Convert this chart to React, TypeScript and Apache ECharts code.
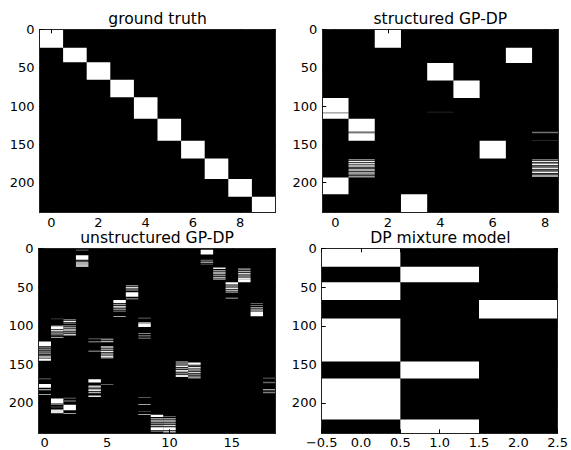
import React, { useEffect, useRef } from "react";
import * as echarts from "echarts";

// Each segment: [column, firstRow, endRow (exclusive), grey level 0..1]
const GROUND_TRUTH_SEGMENTS: number[][] = [
  [0, 0, 24, 1], [1, 24, 43, 1], [2, 43, 66, 1], [3, 66, 89, 1], [4, 89, 117, 1],
  [5, 117, 146, 1], [6, 146, 169, 1], [7, 169, 196, 1], [8, 196, 219, 1], [9, 219, 240, 1],
];

const STRUCTURED_SEGMENTS: number[][] = [
  [2, 0, 24, 1], [7, 24, 44, 1], [4, 44, 67, 1], [5, 67, 90, 1],
  [0, 90, 109, 1], [0, 109, 110, 0.85], [0, 110, 117, 1], [4, 108, 109, 0.18],
  [1, 117, 134, 1], [1, 134, 136, 0.45], [1, 136, 146, 1],
  [8, 134, 136, 0.45], [8, 145, 146, 0.2],
  [6, 146, 169, 1],
  [1, 170, 171, 0.7], [1, 172, 174, 0.95], [1, 175, 177, 0.85], [1, 177, 178, 0.4], [1, 178, 180, 0.9],
  [1, 181, 182, 0.5], [1, 183, 185, 0.9], [1, 186, 187, 0.45], [1, 187, 189, 0.8], [1, 190, 191, 0.9], [1, 192, 194, 0.6],
  [8, 170, 171, 0.6], [8, 172, 174, 0.9], [8, 175, 176, 0.5], [8, 176, 178, 0.95], [8, 179, 180, 0.5],
  [8, 181, 183, 0.9], [8, 184, 185, 0.45], [8, 186, 188, 0.95], [8, 189, 190, 0.6], [8, 191, 193, 0.85],
  [0, 194, 216, 1], [3, 216, 240, 1],
];

const UNSTRUCTURED_SEGMENTS: number[][] = [
  [0, 121, 127, 1], [0, 128, 129, 0.55], [0, 130, 132, 0.5], [0, 133, 134, 0.85], [0, 135, 137, 0.5],
  [0, 138, 139, 0.6], [0, 140, 142, 0.9], [0, 143, 146, 1],
  [0, 169, 170, 0.5], [0, 176, 181, 1], [0, 183, 184, 0.8], [0, 189, 190, 0.85],
  [1, 91, 92, 0.3], [1, 100, 101, 0.6], [1, 101, 105, 1], [1, 106, 108, 0.85], [1, 109, 112, 0.5],
  [1, 113, 114, 0.4], [1, 115, 116, 0.85],
  [1, 195, 201, 1], [1, 201, 203, 0.6], [1, 205, 207, 0.2], [1, 209, 214, 0.9],
  [2, 92, 93, 0.6], [2, 94, 96, 0.95], [2, 97, 98, 0.5], [2, 100, 101, 0.85], [2, 102, 104, 0.6],
  [2, 105, 107, 0.9], [2, 108, 110, 0.5], [2, 111, 113, 0.8],
  [2, 194, 195, 0.5], [2, 197, 199, 0.4], [2, 203, 210, 1], [2, 214, 215, 0.85],
  [3, 2, 3, 0.5], [3, 9, 15, 1], [3, 16, 17, 0.6], [3, 18, 20, 0.9], [3, 20, 22, 0.7], [3, 22, 24, 0.95],
  [4, 117, 118, 0.5], [4, 121, 122, 0.8], [4, 133, 134, 0.85], [4, 170, 174, 1], [4, 178, 180, 0.8],
  [4, 180, 182, 0.5], [4, 183, 185, 0.9], [4, 186, 188, 0.7], [4, 191, 193, 0.9],
  [5, 117, 119, 0.5], [5, 120, 122, 0.7], [5, 127, 129, 0.85], [5, 130, 132, 0.6], [5, 133, 135, 0.95],
  [5, 136, 138, 0.7], [5, 139, 141, 0.9], [5, 141, 143, 0.6], [5, 176, 177, 0.5],
  [6, 67, 71, 1], [6, 72, 74, 0.6], [6, 75, 77, 0.8], [6, 78, 80, 0.55], [6, 81, 82, 0.7], [6, 88, 89, 0.85],
  [7, 48, 49, 0.7], [7, 50, 52, 0.85], [7, 53, 55, 0.5], [7, 57, 63, 1], [7, 65, 66, 0.85],
  [8, 90, 91, 0.5], [8, 96, 98, 0.8], [8, 98, 102, 1], [8, 110, 111, 0.7], [8, 113, 114, 0.8], [8, 116, 117, 0.7],
  [8, 193, 194, 0.45], [8, 202, 203, 0.85], [8, 211, 212, 0.3], [8, 215, 216, 0.85],
  [9, 216, 219, 1], [9, 220, 222, 0.6], [9, 223, 225, 0.8], [9, 226, 228, 0.5], [9, 229, 231, 0.7],
  [9, 232, 236, 1], [9, 237, 238, 0.5],
  [10, 218, 219, 0.5], [10, 220, 222, 0.6], [10, 223, 225, 0.8], [10, 226, 228, 0.55], [10, 229, 231, 0.85],
  [10, 232, 236, 1], [10, 237, 239, 0.7],
  [11, 147, 148, 0.85], [11, 149, 151, 0.6], [11, 152, 154, 0.95], [11, 155, 157, 0.6], [11, 158, 160, 0.9],
  [11, 161, 163, 0.5], [11, 164, 167, 0.9],
  [12, 148, 151, 1], [12, 152, 153, 0.6], [12, 154, 156, 0.9], [12, 157, 159, 0.7], [12, 160, 162, 0.85],
  [12, 163, 165, 0.5], [12, 166, 169, 0.6],
  [13, 2, 8, 1], [13, 15, 16, 0.5], [13, 17, 19, 0.6], [13, 20, 21, 0.45],
  [14, 25, 27, 0.9], [14, 28, 30, 0.6], [14, 31, 33, 0.85], [14, 34, 36, 0.55], [14, 37, 39, 0.7], [14, 39, 41, 0.5],
  [15, 44, 47, 1], [15, 48, 50, 0.6], [15, 51, 53, 0.9], [15, 54, 56, 0.7], [15, 57, 58, 0.6], [15, 64, 65, 0.85],
  [16, 26, 28, 0.5], [16, 29, 31, 0.7], [16, 32, 34, 0.85], [16, 35, 37, 0.6], [16, 38, 40, 0.9], [16, 40, 44, 1],
  [17, 71, 72, 0.5], [17, 74, 75, 0.6], [17, 76, 78, 0.6], [17, 79, 81, 0.7], [17, 82, 88, 1],
  [18, 168, 169, 0.5], [18, 173, 175, 0.4], [18, 183, 184, 0.85], [18, 186, 188, 0.5],
];

const DP_MIXTURE_SEGMENTS: number[][] = [
  [0, 0, 24, 1], [1, 24, 44, 1], [0, 44, 67, 1], [2, 67, 91, 1],
  [0, 91, 147, 1], [1, 147, 169, 1], [0, 169, 222, 1], [1, 222, 240, 1],
];

const TITLES = ["ground truth", "structured GP-DP", "unstructured GP-DP", "DP mixture model"];
const COLUMN_COUNTS = [10, 9, 19, 3];
const X_TICKS: number[][] = [
  [0, 2, 4, 6, 8],
  [0, 2, 4, 6, 8],
  [0, 5, 10, 15],
  [-0.5, 0, 0.5, 1, 1.5, 2, 2.5],
];
const Y_TICKS = [0, 50, 100, 150, 200];
const ROW_COUNT = 240;

const SEGMENTS = [GROUND_TRUTH_SEGMENTS, STRUCTURED_SEGMENTS, UNSTRUCTURED_SEGMENTS, DP_MIXTURE_SEGMENTS];

const GRIDS = [
  { left: 39.5, top: 29.3, width: 236, height: 183.4 },
  { left: 322.3, top: 29.3, width: 236, height: 183.4 },
  { left: 38.5, top: 248.3, width: 237, height: 185 },
  { left: 321.7, top: 248.3, width: 237.3, height: 185 },
];

const FONT = "DejaVu Sans";

function grey(v: number): string {
  const c = Math.round(Math.max(0, Math.min(1, v)) * 255);
  return `rgb(${c},${c},${c})`;
}

function fmtX(panel: number, v: number): string {
  if (panel === 3) {
    const s = Math.abs(v).toFixed(1);
    return v < 0 ? "\u2212" + s : s;
  }
  return String(v);
}

function buildOption() {
  const xAxis: any[] = [];
  const yAxis: any[] = [];
  const series: any[] = [];
  const graphic: any[] = [];
  const grid = GRIDS.map((g) => ({
    ...g,
    show: true,
    backgroundColor: "#000",
    borderWidth: 0,
    containLabel: false,
  }));

  const lineStyle = { color: "#222", width: 1 };
  const tickStyle = { color: "#000", width: 1 };

  for (let i = 0; i < 4; i++) {
    const n = COLUMN_COUNTS[i];
    const base = {
      gridIndex: i,
      type: "value",
      min: -0.5,
      max: n - 0.5,
      z: 10,
      splitLine: { show: false },
      axisLine: { show: true, lineStyle, onZero: false },
    };
    xAxis.push({
      ...base,
      position: "bottom",
      axisTick: { show: true, inside: true, length: 4, lineStyle: tickStyle, customValues: X_TICKS[i] },
      axisLabel: {
        show: true,
        customValues: X_TICKS[i],
        showMinLabel: true,
        showMaxLabel: true,
        margin: 3,
        color: "#000",
        fontSize: 13,
        fontFamily: FONT,
        lineHeight: 13,
        formatter: (v: number) => fmtX(i, v),
      },
    });
    xAxis.push({
      ...base,
      position: "top",
      axisTick: { show: true, inside: true, length: 4, lineStyle: tickStyle, customValues: X_TICKS[i] },
      axisLabel: { show: false },
    });
    const ybase = {
      gridIndex: i,
      type: "value",
      min: -0.5,
      max: ROW_COUNT - 0.5,
      inverse: true,
      z: 10,
      splitLine: { show: false },
      axisLine: { show: true, lineStyle, onZero: false },
    };
    yAxis.push({
      ...ybase,
      position: "left",
      axisTick: { show: true, inside: true, length: 4, lineStyle: tickStyle, customValues: Y_TICKS },
      axisLabel: {
        show: true,
        customValues: Y_TICKS,
        showMinLabel: true,
        margin: 5,
        color: "#000",
        fontSize: 13,
        fontFamily: FONT,
      },
    });
    yAxis.push({
      ...ybase,
      position: "right",
      axisTick: { show: true, inside: true, length: 4, lineStyle: tickStyle, customValues: Y_TICKS },
      axisLabel: { show: false },
    });

    series.push({
      type: "custom",
      xAxisIndex: 2 * i,
      yAxisIndex: 2 * i,
      clip: true,
      z: 2,
      encode: { x: 0, y: 1 },
      data: SEGMENTS[i],
      renderItem: (params: any, api: any) => {
        const c = api.value(0);
        const r0 = api.value(1);
        const r1 = api.value(2);
        const v = api.value(3);
        const p0 = api.coord([c - 0.5, r0 - 0.5]);
        const p1 = api.coord([c + 0.5, r1 - 0.5]);
        return {
          type: "rect",
          shape: {
            x: Math.min(p0[0], p1[0]),
            y: Math.min(p0[1], p1[1]),
            width: Math.abs(p1[0] - p0[0]),
            height: Math.abs(p1[1] - p0[1]),
          },
          style: { fill: grey(v) },
        };
      },
    });

    const g = GRIDS[i];
    graphic.push({
      type: "text",
      x: g.left + g.width / 2,
      y: g.top - 10,
      z: 20,
      style: {
        text: TITLES[i],
        fontSize: 15.6,
        fontFamily: FONT,
        lineHeight: 15.6,
        fill: "#000",
        align: "center",
        verticalAlign: "middle",
      },
    });
  }

  return {
    animation: false,
    backgroundColor: "#fff",
    grid,
    xAxis,
    yAxis,
    series,
    graphic,
  };
}

export default function App() {
  const ref = useRef<HTMLDivElement>(null);
  useEffect(() => {
    if (!ref.current) return;
    const chart = echarts.init(ref.current, undefined, { renderer: "svg" });
    chart.setOption(buildOption() as any);
    return () => chart.dispose();
  }, []);
  return (
    <div
      ref={ref}
      style={{ position: "absolute", left: 0, top: 0, width: 571, height: 450 }}
    />
  );
}
